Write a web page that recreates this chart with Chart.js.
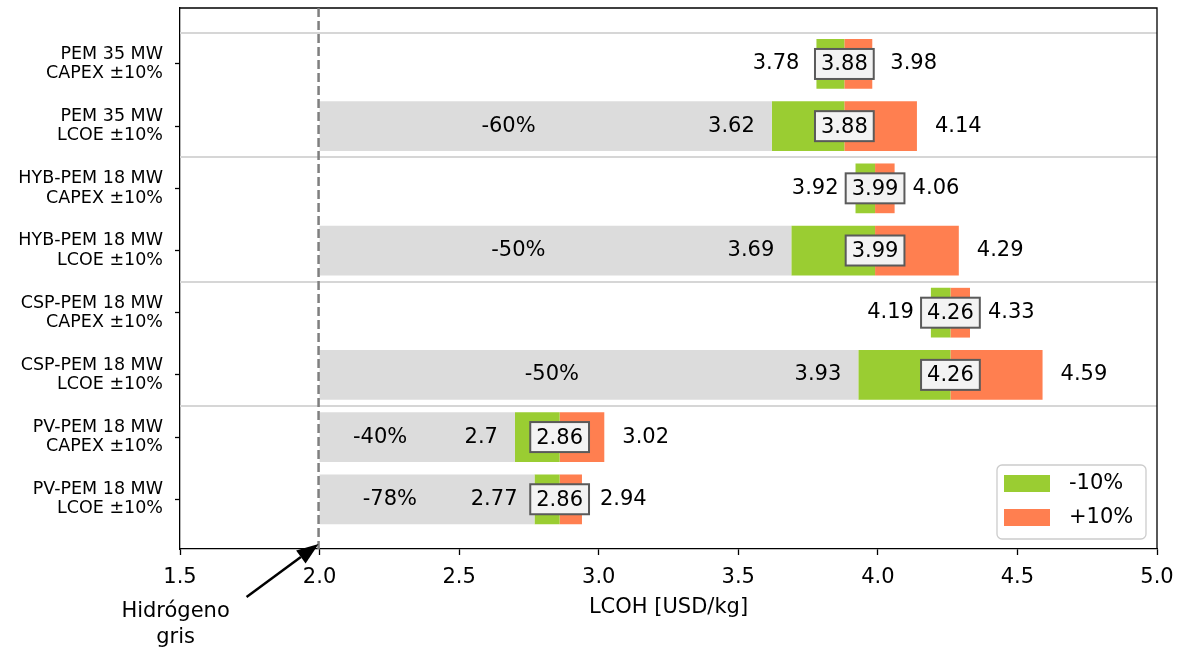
<!DOCTYPE html>
<html>
<head>
<meta charset="utf-8">
<script src="https://cdn.jsdelivr.net/npm/chart.js@4"></script>
<style>
  html, body { margin: 0; padding: 0; background: #fff; }
  #chart { display: block; }
</style>
</head>
<body>
<canvas id="chart" width="1178" height="650"></canvas>
<script>
const categories = [
    ['PEM 35 MW', 'CAPEX ±10%'],
    ['PEM 35 MW', 'LCOE ±10%'],
    ['HYB-PEM 18 MW', 'CAPEX ±10%'],
    ['HYB-PEM 18 MW', 'LCOE ±10%'],
    ['CSP-PEM 18 MW', 'CAPEX ±10%'],
    ['CSP-PEM 18 MW', 'LCOE ±10%'],
    ['PV-PEM 18 MW', 'CAPEX ±10%'],
    ['PV-PEM 18 MW', 'LCOE ±10%'],
];
const baseValues = [3.88, 3.88, 3.99, 3.99, 4.26, 4.26, 2.86, 2.86];
const lowValues = [3.78, 3.62, 3.92, 3.69, 4.19, 3.93, 2.7, 2.77];
const highValues = [3.98, 4.14, 4.06, 4.29, 4.33, 4.59, 3.02, 2.94];
const reductionLabels = ['', '-60%', '', '-50%', '', '-50%', '-40%', '-78%'];
const greyHydrogen = 2.0;
const xTicks = [1.5, 2.0, 2.5, 3.0, 3.5, 4.0, 4.5, 5.0];
const seriesLabels = ['-10%', '+10%'];

const FONT = '"DejaVu Sans", sans-serif';
Chart.defaults.font.family = FONT;
Chart.defaults.color = '#000';

const GREEN = '#9acd32';
const ORANGE = '#ff7f50';
const GREY = '#dcdcdc';

function getGreyData() {
    let data = [];
    for (let i = 0; i < categories.length; i++) {
        if (reductionLabels[i] !== '') {
            data.push({ x: [greyHydrogen, lowValues[i]], y: i });
        }
    }
    return data;
}

const lowData = categories.map((c, i) => ({ x: [lowValues[i], baseValues[i]], y: i }));
const highData = categories.map((c, i) => ({ x: [baseValues[i], highValues[i]], y: i }));

function fmt(v) {
    return String(v);
}

const overlay = {
    id: 'overlay',
    afterDraw(chart) {
        const ctx = chart.ctx;
        const area = chart.chartArea;
        const xs = chart.scales.x;
        const ys = chart.scales.y;

        ctx.save();

        // group separators
        ctx.strokeStyle = '#d6d6d6';
        ctx.lineWidth = 2;
        for (let i = 0; i < categories.length; i++) {
            if (i === 0 || categories[i][0] !== categories[i - 1][0]) {
                const y = Math.round(ys.getPixelForValue(i - 0.5));
                ctx.beginPath();
                ctx.moveTo(area.left, y);
                ctx.lineTo(area.right, y);
                ctx.stroke();
            }
        }

        // top / right spines
        ctx.strokeStyle = '#000';
        ctx.lineWidth = 1.3;
        ctx.beginPath();
        ctx.moveTo(area.left, area.top);
        ctx.lineTo(area.right, area.top);
        ctx.lineTo(area.right, area.bottom);
        ctx.stroke();

        // grey hydrogen reference
        const gx = xs.getPixelForValue(greyHydrogen) - 1;
        ctx.strokeStyle = '#7f7f7f';
        ctx.lineWidth = 2.5;
        ctx.setLineDash([9, 4]);
        ctx.beginPath();
        ctx.moveTo(gx, area.top);
        ctx.lineTo(gx, area.bottom);
        ctx.stroke();
        ctx.setLineDash([]);

        // labels on the bars
        ctx.font = '21px ' + FONT;
        ctx.fillStyle = '#000';
        ctx.textBaseline = 'middle';
        for (let i = 0; i < categories.length; i++) {
            const y = ys.getPixelForValue(i);

            ctx.textAlign = 'right';
            ctx.fillText(fmt(lowValues[i]), xs.getPixelForValue(lowValues[i]) - 17, y);

            ctx.textAlign = 'left';
            ctx.fillText(fmt(highValues[i]), xs.getPixelForValue(highValues[i]) + 18, y);

            if (reductionLabels[i] !== '') {
                const mid = (greyHydrogen + lowValues[i]) / 2 - 0.133;
                ctx.textAlign = 'center';
                ctx.fillText(reductionLabels[i], xs.getPixelForValue(mid), y);
            }

            // boxed base value
            const text = fmt(baseValues[i]);
            const bx = xs.getPixelForValue(baseValues[i]);
            const w = ctx.measureText(text).width + 12;
            const h = 30;
            ctx.fillStyle = '#f3f3f3';
            ctx.fillRect(bx - w / 2, y - h / 2, w, h);
            ctx.strokeStyle = '#5a5a5a';
            ctx.lineWidth = 2;
            ctx.strokeRect(bx - w / 2, y - h / 2, w, h);
            ctx.fillStyle = '#000';
            ctx.textAlign = 'center';
            ctx.fillText(text, bx, y + 1);
        }

        // legend
        const lw = 149, lh = 74;
        const lx = area.right - 11 - lw;
        const ly = area.bottom - 10 - lh;
        ctx.fillStyle = 'rgba(255,255,255,0.85)';
        ctx.strokeStyle = '#cccccc';
        ctx.lineWidth = 1.3;
        ctx.beginPath();
        ctx.roundRect(lx, ly, lw, lh, 5);
        ctx.fill();
        ctx.stroke();
        const legendItems = [chart.data.datasets[1], chart.data.datasets[2]];
        legendItems.forEach((ds, k) => {
            const rowY = ly + 18 + k * 34;
            ctx.fillStyle = ds.backgroundColor;
            ctx.fillRect(lx + 7, rowY - 8, 46, 17);
            ctx.fillStyle = '#000';
            ctx.textAlign = 'left';
            ctx.fillText(ds.label, lx + 72, rowY + 1);
        });

        // x axis title
        ctx.textAlign = 'center';
        ctx.fillText('LCOH [USD/kg]', (area.left + area.right) / 2, area.bottom + 59);

        // annotation "Hidrógeno gris"
        const tipX = gx;
        const tipY = area.bottom - 5;
        const tailX = tipX - 72;
        const tailY = tipY + 53;
        ctx.fillText('Hidrógeno', tipX - 143, area.bottom + 63);
        ctx.fillText('gris', tipX - 143, area.bottom + 89);

        const ang = Math.atan2(tipY - tailY, tipX - tailX);
        const headLen = 22, headW = 8;
        const baseX = tipX - headLen * Math.cos(ang);
        const baseY = tipY - headLen * Math.sin(ang);
        ctx.strokeStyle = '#000';
        ctx.lineWidth = 2.5;
        ctx.beginPath();
        ctx.moveTo(tailX, tailY);
        ctx.lineTo(baseX, baseY);
        ctx.stroke();
        ctx.fillStyle = '#000';
        ctx.beginPath();
        ctx.moveTo(tipX, tipY);
        ctx.lineTo(baseX + headW * Math.sin(ang), baseY - headW * Math.cos(ang));
        ctx.lineTo(baseX - headW * Math.sin(ang), baseY + headW * Math.cos(ang));
        ctx.closePath();
        ctx.fill();

        ctx.restore();
    }
};

const canvas = document.getElementById('chart');
const config = {
    type: 'bar',
    data: {
        datasets: [
            { label: 'gris', data: getGreyData(), backgroundColor: GREY },
            { label: seriesLabels[0], data: lowData, backgroundColor: GREEN },
            { label: seriesLabels[1], data: highData, backgroundColor: ORANGE },
        ]
    },
    options: {
        indexAxis: 'y',
        responsive: false,
        maintainAspectRatio: false,
        animation: false,
        datasets: {
            bar: { grouped: false, categoryPercentage: 0.8, barPercentage: 1.0 }
        },
        layout: { padding: { top: 8, right: 21, left: 0, bottom: 0 } },
        scales: {
            x: {
                type: 'linear',
                min: 1.5,
                max: 5.0,
                afterBuildTicks: s => { s.ticks = xTicks.map(v => ({ value: v })); },
                afterFit: s => { s.height = 101; s.paddingLeft = 0; s.paddingRight = 0; },
                ticks: {
                    callback: v => v.toFixed(1),
                    font: { size: 21 },
                    color: '#000',
                    padding: 10,
                    maxRotation: 0,
                    autoSkip: false,
                },
                grid: { drawOnChartArea: false, tickLength: 6, tickColor: '#000', tickWidth: 1.3 },
                border: { color: '#000', width: 1.3 },
            },
            y: {
                type: 'linear',
                reverse: true,
                offset: false,
                min: -0.9,
                max: 7.8,
                afterBuildTicks: s => { s.ticks = categories.map((c, i) => ({ value: i })); },
                afterFit: s => { s.width = 180; s.paddingTop = 0; s.paddingBottom = 0; },
                ticks: {
                    callback: v => categories[v],
                    font: { size: 17.5, lineHeight: 1.1 },
                    color: '#000',
                    padding: 12,
                    autoSkip: false,
                },
                grid: { offset: false, drawOnChartArea: false, tickLength: 5, tickColor: '#000', tickWidth: 1.3 },
                border: { color: '#000', width: 1.3 },
            }
        },
        plugins: {
            legend: { display: false },
            tooltip: { enabled: false },
        }
    },
    plugins: [overlay]
};

new Chart(canvas, config);
</script>
</body>
</html>
